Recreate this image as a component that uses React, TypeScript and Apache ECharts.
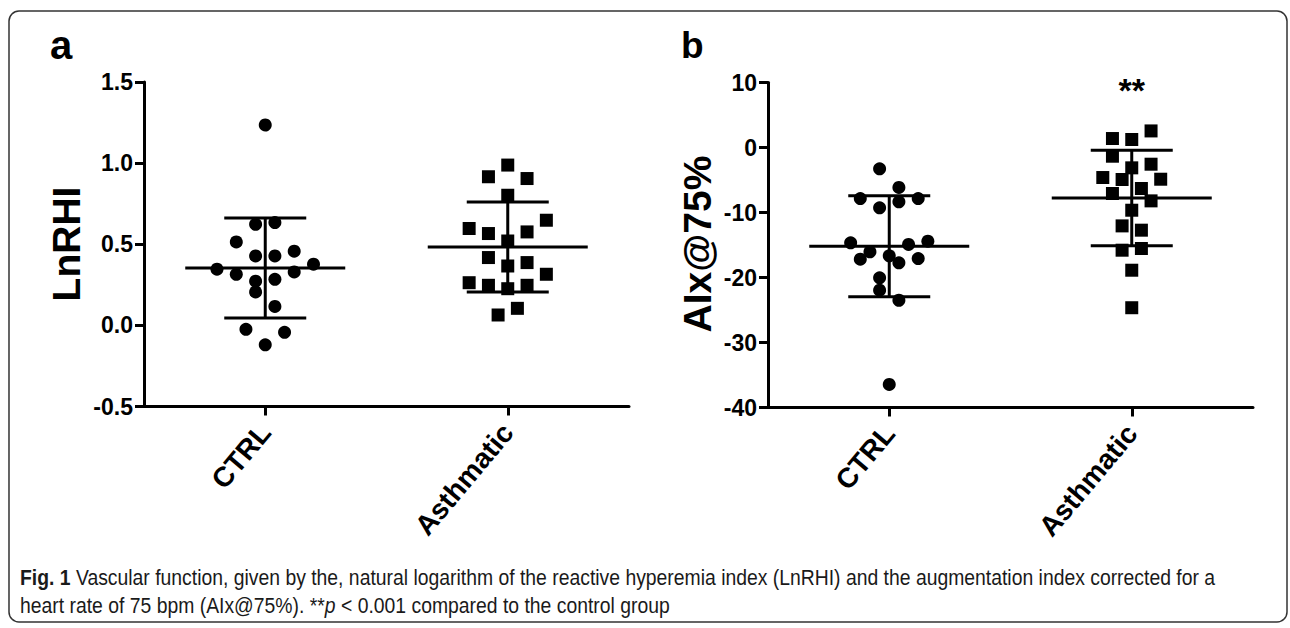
import React, { useEffect, useRef } from "react";
import * as echarts from "echarts";

const categories = ["CTRL", "Asthmatic"];
const yTicksA = { min: -0.5, max: 1.5, interval: 0.5 };
const yTicksB = { min: -40, max: 10, interval: 10 };

// Panel a: LnRHI
const ctrlA = [1.235, 0.623, 0.634, 0.514, 0.428, 0.428, 0.457, 0.346, 0.315, 0.377, 0.329, 0.272, 0.284, 0.206, 0.117, -0.024, -0.043, -0.12];
const ctrlASlot = [0, -0.5, 0.5, -1.5, -0.5, 0.5, 1.5, -2.5, -1.5, 2.5, 1.5, -0.5, 0.5, -0.5, 0.5, -1, 1, 0];
const asthA = [0.988, 0.916, 0.905, 0.802, 0.648, 0.597, 0.566, 0.576, 0.52, 0.418, 0.387, 0.366, 0.315, 0.263, 0.247, 0.226, 0.247, 0.105, 0.064];
const asthASlot = [0, -1, 1, 0, 2, -2, -1, 1, 0, -1, 1, 0, 2, -2, -1, 0, 1, 0.5, -0.5];
const meanA = [0.354, 0.483];
const sdA = [0.308, 0.277];

// Panel b: AIx@75%
const ctrlB = [-3.28, -6.15, -7.85, -8.36, -7.85, -9.28, -14.67, -14.92, -14.41, -16.05, -16.67, -17.18, -17.74, -17.08, -20.05, -21.95, -23.5, -36.46];
const ctrlBSlot = [-0.5, 0.5, -1.5, 0.5, 1.5, -0.5, -2, 1, 2, -1, 0, -1.5, 0.5, 1.5, -0.5, -0.5, 0.5, 0];
const asthB = [2.55, 1.38, 1.23, -1.34, -3.13, -2.57, -4.62, -4.92, -4.88, -6.31, -7.08, -8.21, -9.65, -12.06, -12.72, -15.8, -15.54, -18.88, -24.65];
const asthBSlot = [1, -1, 0, -1, 0, 1, -1.5, -0.5, 1.5, 0.5, -1, 1, 0, -0.5, 0.5, -0.5, 0.5, 0, 0];
const meanB = [-15.2, -7.77];
const sdB = [7.77, 7.36];

const sigLabel = "**";
const sigY = 9.3;

const captionLine1 = "{b|Fig. 1} Vascular function, given by the, natural logarithm of the reactive hyperemia index (LnRHI) and the augmentation index corrected for a";
const captionLine2 = "heart rate of 75 bpm (AIx@75%). **{i|p} < 0.001 compared to the control group";

const SLOT = 0.0796;
const FONT = "'Liberation Sans', Arial, sans-serif";

function pts(vals: number[], slots: number[], center: number) {
  return vals.map((v, i) => [center + slots[i] * SLOT, v]);
}

function errorSeries(xIdx: number, yIdx: number, means: number[], sds: number[]) {
  return {
    type: "custom",
    xAxisIndex: xIdx,
    yAxisIndex: yIdx,
    z: 5,
    data: means.map((m, i) => [i + 0.5, m, sds[i]]),
    renderItem: (params: any, api: any) => {
      const x = api.value(0);
      const m = api.value(1);
      const sd = api.value(2);
      const c = api.coord([x, m]);
      const t = api.coord([x, m + sd]);
      const b = api.coord([x, m - sd]);
      const style = { stroke: "#000", lineWidth: 3 };
      const hw = 80;
      const cw = 41;
      return {
        type: "group",
        children: [
          { type: "line", shape: { x1: c[0] - hw, y1: c[1], x2: c[0] + hw, y2: c[1] }, style },
          { type: "line", shape: { x1: c[0], y1: t[1], x2: c[0], y2: b[1] }, style },
          { type: "line", shape: { x1: c[0] - cw, y1: t[1], x2: c[0] + cw, y2: t[1] }, style },
          { type: "line", shape: { x1: c[0] - cw, y1: b[1], x2: c[0] + cw, y2: b[1] }, style },
        ],
      };
    },
  };
}

function catAxis(grid: number) {
  return {
    type: "category",
    gridIndex: grid,
    data: categories,
    boundaryGap: true,
    axisLine: { show: true, onZero: false, lineStyle: { color: "#000", width: 3 } },
    axisTick: { show: true, alignWithLabel: true, length: 9, lineStyle: { color: "#000", width: 3 } },
    axisLabel: {
      rotate: 50,
      margin: 21,
      color: "#000",
      fontFamily: FONT,
      fontWeight: "bold",
      fontSize: 28,
    },
    splitLine: { show: false },
  };
}

function valXAxis(grid: number) {
  return { type: "value", gridIndex: grid, min: 0, max: 2, show: false };
}

function valYAxis(grid: number, t: { min: number; max: number; interval: number }, digits: number) {
  return {
    type: "value",
    gridIndex: grid,
    min: t.min,
    max: t.max,
    interval: t.interval,
    axisLine: { show: true, onZero: false, lineStyle: { color: "#000", width: 3 } },
    axisTick: { show: true, length: 9, lineStyle: { color: "#000", width: 3 } },
    axisLabel: {
      margin: 11,
      color: "#000",
      fontFamily: FONT,
      fontWeight: "bold",
      fontSize: 23,
      formatter: (v: number) => v.toFixed(digits),
    },
    splitLine: { show: false },
  };
}

const pointStyle = { color: "#000", opacity: 1 };
const capFont = "'Liberation Sans', Arial, sans-serif";

export default function App() {
  const ref = useRef<HTMLDivElement>(null);
  useEffect(() => {
    document.body.style.margin = "0";
    const chart = echarts.init(ref.current!, undefined, { renderer: "svg" });
    const option: any = {
      animation: false,
      backgroundColor: "#fff",
      grid: [
        { left: 144, top: 82, width: 485, height: 324.5 },
        { left: 768, top: 82.5, width: 485, height: 325 },
      ],
      xAxis: [catAxis(0), valXAxis(0), catAxis(1), valXAxis(1)],
      yAxis: [valYAxis(0, yTicksA, 1), valYAxis(1, yTicksB, 0)],
      series: [
        {
          type: "scatter", xAxisIndex: 1, yAxisIndex: 0, symbol: "circle", symbolSize: 13,
          itemStyle: pointStyle, data: pts(ctrlA, ctrlASlot, 0.5),
        },
        {
          type: "scatter", xAxisIndex: 1, yAxisIndex: 0, symbol: "rect", symbolSize: 13,
          itemStyle: pointStyle, data: pts(asthA, asthASlot, 1.5),
        },
        errorSeries(1, 0, meanA, sdA),
        {
          type: "scatter", xAxisIndex: 3, yAxisIndex: 1, symbol: "circle", symbolSize: 13,
          itemStyle: pointStyle, data: pts(ctrlB, ctrlBSlot, 0.5),
        },
        {
          type: "scatter", xAxisIndex: 3, yAxisIndex: 1, symbol: "rect", symbolSize: 13,
          itemStyle: pointStyle, data: pts(asthB, asthBSlot, 1.5),
        },
        errorSeries(3, 1, meanB, sdB),
        {
          type: "scatter", xAxisIndex: 3, yAxisIndex: 1, symbolSize: 1,
          itemStyle: { color: "rgba(0,0,0,0)", opacity: 1 },
          label: {
            show: true, position: "inside", formatter: sigLabel, color: "#000", opacity: 1,
            fontFamily: FONT, fontWeight: "bold", fontSize: 34, offset: [0, 3],
          },
          data: [[1.5, sigY]],
        },
      ],
      graphic: [
        {
          type: "rect", z: -1,
          shape: { x: 9, y: 11, width: 1278, height: 611, r: 10 },
          style: { fill: "#fff", stroke: "#333", lineWidth: 1.5 },
        },
        {
          type: "text", x: 50, y: 45,
          style: { text: "a", fontFamily: FONT, fontWeight: "bold", fontSize: 40, fill: "#000", verticalAlign: "middle" },
        },
        {
          type: "text", x: 681, y: 45,
          style: { text: "b", fontFamily: FONT, fontWeight: "bold", fontSize: 37, fill: "#000", verticalAlign: "middle" },
        },
        {
          type: "text", x: 66, y: 244, rotation: Math.PI / 2,
          style: { text: "LnRHI", fontFamily: FONT, fontWeight: "bold", fontSize: 39, fill: "#000", align: "center", verticalAlign: "middle" },
        },
        {
          type: "text", x: 697, y: 244, rotation: Math.PI / 2,
          style: { text: "AIx@75%", fontFamily: FONT, fontWeight: "bold", fontSize: 39, fill: "#000", align: "center", verticalAlign: "middle" },
        },
        {
          type: "text", x: 20, y: 577, scaleX: 0.88,
          style: {
            text: captionLine1,
            fontFamily: capFont, fontSize: 22, fill: "#1a1a1a", verticalAlign: "middle",
            rich: { b: { fontWeight: "bold", fontSize: 22, fontFamily: capFont, fill: "#1a1a1a" } },
          },
        },
        {
          type: "text", x: 20, y: 605, scaleX: 0.88,
          style: {
            text: captionLine2,
            fontFamily: capFont, fontSize: 22, fill: "#1a1a1a", verticalAlign: "middle",
            rich: { i: { fontStyle: "italic", fontSize: 22, fontFamily: capFont, fill: "#1a1a1a" } },
          },
        },
      ],
    };
    chart.setOption(option);
    return () => chart.dispose();
  }, []);
  return <div ref={ref} style={{ width: 1290, height: 628 }} />;
}
